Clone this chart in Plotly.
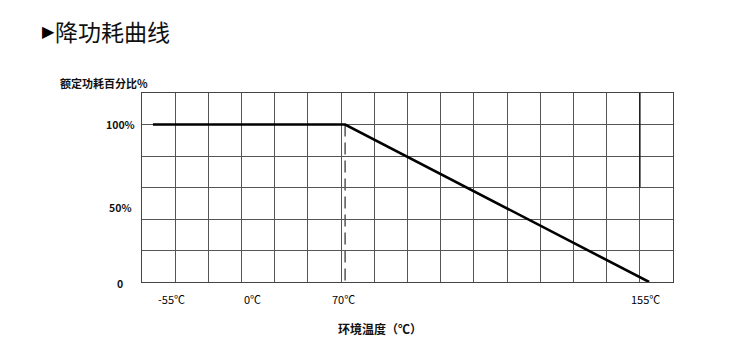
import numpy as np
import plotly.graph_objects as go

# ---- data ----
temps = [-55, 70, 155]          # ambient temperature (°C)
power = [100, 100, 0]           # rated power percentage
knee_temp = 70
tick_temps = [-55, 0, 70, 155]
tick_labels = ["-55℃", "0℃", "70℃", "155℃"]
y_tick_vals = [0, 50, 100]
y_tick_labels = ["0", "50%", "100%"]

# ---- schematic (non-linear) axis scale of the original drawing ----
SCALE_T = [-55, 0, 70, 155]
SCALE_U = [0.33, 3.34, 6.12, 15.28]
def tx(t):
    return np.interp(t, SCALE_T, SCALE_U)

FONT = "Noto Sans CJK SC"
W, H = 734, 349
L, R, T, B = 142, 61, 93, 67
PW, PH = W - L - R, H - T - B

fig = go.Figure()

# dashed guide at knee
fig.add_trace(go.Scatter(
    x=tx([knee_temp, knee_temp]), y=[power[1], 0], mode="lines",
    line=dict(color="#555", width=1.5, dash="12px,6px"),
    hoverinfo="skip", showlegend=False))

# derating curve
fig.add_trace(go.Scatter(
    x=tx(temps), y=power, mode="lines",
    line=dict(color="#000", width=2.6),
    showlegend=False))

# darker grid stub
fig.add_shape(type="line", xref="x", yref="y", x0=15, x1=15, y0=60, y1=120,
              line=dict(color="#222", width=1.6))

annotations = []
label_shift = {-55: 19, 0: 0, 70: -2, 155: -4}
for t, lab in zip(tick_temps, tick_labels):
    annotations.append(dict(
        x=float(tx(t)), y=0, xref="x", yref="paper", text=lab,
        showarrow=False, xanchor="center", yanchor="middle",
        xshift=label_shift[t], yshift=-17,
        font=dict(family=FONT, size=11, color="#000")))
y_shift = {0: -1, 50: -4, 100: 0}
for v, lab in zip(y_tick_vals, y_tick_labels):
    annotations.append(dict(
        x=(120 - L) / PW, y=v, xref="paper", yref="y", text="<b>" + lab + "</b>",
        showarrow=False, xanchor="center", yanchor="middle",
        yshift=y_shift[v],
        font=dict(family=FONT, size=10.5, color="#111")))

annotations.append(dict(
    x=(58 - L) / PW, y=1 + (T - 83) / PH, xref="paper", yref="paper",
    text="<b>额定功耗百分比%</b>", showarrow=False, xanchor="left", yanchor="middle",
    font=dict(family=FONT, size=11, color="#111")))
annotations.append(dict(
    x=(380 - L) / PW, y=-(328 - (H - B)) / PH, xref="paper", yref="paper",
    text="<b>环境温度（℃）</b>", showarrow=False, xanchor="center", yanchor="middle",
    font=dict(family=FONT, size=12, color="#111")))
# title marker
annotations.append(dict(
    x=(40 - L) / PW, y=1 + (T - 32) / PH, xref="paper", yref="paper",
    text="▶", showarrow=False, xanchor="left", yanchor="middle",
    font=dict(family="DejaVu Sans", size=16, color="#000")))

fig.update_layout(
    width=W, height=H,
    margin=dict(l=L, r=R, t=T, b=B),
    paper_bgcolor="white", plot_bgcolor="white",
    title=dict(text="降功耗曲线", x=55 / W, xanchor="left",
               y=1 - 33 / H, yanchor="middle",
               font=dict(family=FONT, size=23, color="#111")),
    xaxis=dict(range=[0, 16], dtick=1, tick0=0, showgrid=True,
               gridcolor="#555", gridwidth=1.4, showticklabels=False,
               zeroline=False, showline=True, linecolor="#444", linewidth=1.4,
               mirror=True, ticks=""),
    yaxis=dict(range=[0, 120], dtick=20, tick0=0, showgrid=True,
               gridcolor="#555", gridwidth=1.4, showticklabels=False,
               zeroline=False, showline=True, linecolor="#444", linewidth=1.4,
               mirror=True, ticks=""),
    annotations=annotations,
)

fig.write_html("out.html")
